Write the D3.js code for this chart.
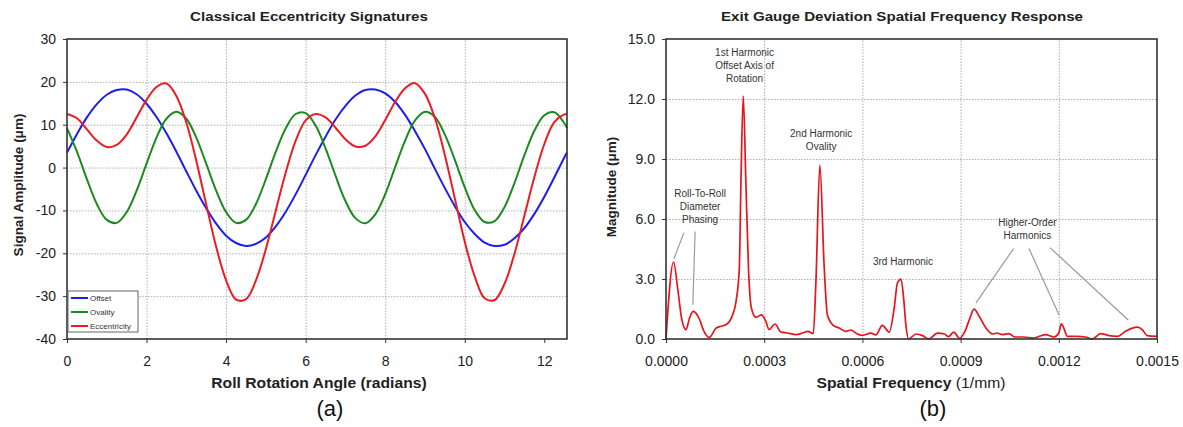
<!DOCTYPE html>
<html>
<head>
<meta charset="utf-8">
<script src="https://cdn.jsdelivr.net/npm/d3@7"></script>
<style>
  body { margin: 0; background: #fff; }
  svg { display: block; font-family: Arial, "Liberation Sans", sans-serif; }
  .grid line { stroke: #9a9a9a; stroke-dasharray: 1.5 1.5; stroke-width: 0.8; }
  .grid path { display: none; }
  .axis path { display: none; }
  .axis line { stroke: #333; }
  .axis text { font-size: 14px; fill: #222; }
</style>
</head>
<body>
<svg width="1183" height="427"></svg>
<script>
// ---- panel (a): eccentricity signatures ----
const angle = [0, 0.25, 0.5, 0.75, 1, 1.25, 1.5, 1.75, 2, 2.25, 2.5, 2.75, 3, 3.25, 3.5, 3.75,
  4, 4.25, 4.5, 4.75, 5, 5.25, 5.5, 5.75, 6, 6.25, 6.5, 6.75, 7, 7.25, 7.5, 7.75,
  8, 8.25, 8.5, 8.75, 9, 9.25, 9.5, 9.75, 10, 10.25, 10.5, 10.75, 11, 11.25, 11.5, 11.75,
  12, 12.25, 12.5, 12.57];
const offset = [3.5, 7.8, 11.7, 14.8, 17.0, 18.1, 18.2, 17.1, 14.9, 11.8, 8.0, 3.7, -0.9, -5.4, -9.5, -13.1,
  -15.9, -17.6, -18.3, -17.8, -16.3, -13.7, -10.3, -6.2, -1.7, 2.9, 7.2, 11.2, 14.4, 16.8, 18.1, 18.2,
  17.3, 15.3, 12.3, 8.5, 4.3, -0.3, -4.8, -9.0, -12.7, -15.5, -17.5, -18.3, -18.0, -16.5, -14.1, -10.8,
  -6.8, -2.3, 2.3, 3.5];
const ovality = [9.2, 3.7, -2.7, -8.5, -12.2, -12.9, -10.4, -5.4, 0.9, 7.0, 11.4, 13.0, 11.4, 7.0, 0.9, -5.4,
  -10.4, -12.9, -12.2, -8.5, -2.7, 3.7, 9.2, 12.5, 12.7, 9.8, 4.5, -1.9, -7.8, -11.8, -13.0, -10.9,
  -6.2, 0.1, 6.3, 11.0, 13.0, 11.8, 7.7, 1.8, -4.6, -9.9, -12.7, -12.5, -9.2, -3.6, 2.9, 8.6,
  12.2, 12.9, 10.4, 9.2];
const eccentricity = [12.5, 11.5, 8.9, 6.3, 4.8, 5.3, 7.7, 11.7, 15.8, 18.8, 19.6, 16.7, 10.5, 1.6, -8.6, -18.5,
  -26.3, -30.8, -30.7, -26.3, -19.0, -10.0, -1.1, 6.3, 11.0, 12.5, 11.7, 9.3, 6.6, 4.9, 5.1, 7.3,
  11.1, 15.3, 18.5, 19.7, 17.2, 11.5, 2.9, -7.2, -17.3, -25.4, -30.5, -30.9, -27.1, -20.1, -11.2, -2.2,
  5.5, 10.6, 12.4, 12.5];
const seriesNames = ['Offset', 'Ovality', 'Eccentricity'];
const seriesColors = ['#1d1df0', '#1b8a1f', '#ec1c24'];
const angleTicks = [0, 2, 4, 6, 8, 10, 12];
const ampTicks = [-40, -30, -20, -10, 0, 10, 20, 30];

// ---- panel (b): spatial frequency spectrum ----
const freq = [0, 0.000023, 0.000036, 0.000048, 0.000061, 0.000072, 0.000083, 0.000102, 0.000115, 0.000132,
  0.000153, 0.000168, 0.000183, 0.000203, 0.000214, 0.000224, 0.000229, 0.000236, 0.000244, 0.000252,
  0.000261, 0.000275, 0.000292, 0.000305, 0.000315, 0.000333, 0.000351, 0.000371, 0.000397, 0.000417,
  0.000434, 0.000450, 0.000458, 0.000470, 0.000483, 0.000493, 0.000509, 0.000529, 0.000549, 0.000564,
  0.000585, 0.000600, 0.000626, 0.000641, 0.000661, 0.000682, 0.000697, 0.000707, 0.000718, 0.000726,
  0.000733, 0.000741, 0.000764, 0.000784, 0.000802, 0.000830, 0.000851, 0.000863, 0.000879, 0.000897,
  0.000912, 0.000928, 0.000941, 0.000958, 0.000979, 0.000999, 0.001011, 0.001027, 0.001047, 0.001067,
  0.001093, 0.001123, 0.001159, 0.001185, 0.001200, 0.001208, 0.001217, 0.001226, 0.001256, 0.001282,
  0.001302, 0.001328, 0.001353, 0.001379, 0.001404, 0.001440, 0.001455, 0.001470, 0.001500];
const magnitude = [0.0, 3.85, 2.5, 1.0, 0.47, 1.05, 1.38, 1.0, 0.42, 0.08,
  0.54, 0.64, 0.71, 1.18, 1.88, 3.54, 7.9, 12.15, 7.86, 3.54,
  1.54, 1.08, 1.21, 0.88, 0.47, 0.75, 0.35, 0.30, 0.22, 0.30,
  0.38, 0.27, 2.87, 8.7, 3.7, 1.21, 0.71, 0.55, 0.38, 0.45,
  0.25, 0.18, 0.29, 0.20, 0.68, 0.34, 1.53, 2.8, 3.0, 2.03,
  0.68, 0.0, 0.25, 0.17, 0.0, 0.29, 0.25, 0.12, 0.34, 0.03,
  0.34, 1.02, 1.49, 1.10, 0.51, 0.25, 0.30, 0.22, 0.27, 0.10,
  0.10, 0.05, 0.22, 0.10, 0.30, 0.76, 0.47, 0.13, 0.13, 0.10,
  0.0, 0.27, 0.17, 0.13, 0.39, 0.59, 0.47, 0.17, 0.13];
const freqTicks = [0, 0.0003, 0.0006, 0.0009, 0.0012, 0.0015];
const magTicks = [0, 3, 6, 9, 12, 15];

// annotation text, anchored in data units (frequency, magnitude of first line)
const notes = [
  {f: 0.000240, m: 14.35, lines: ['1st Harmonic', 'Offset Axis of', 'Rotation']},
  {f: 0.000474, m: 10.29, lines: ['2nd Harmonic', 'Ovality']},
  {f: 0.000104, m: 7.28, lines: ['Roll-To-Roll', 'Diameter', 'Phasing']},
  {f: 0.000724, m: 3.86, lines: ['3rd Harmonic']},
  {f: 0.001104, m: 5.82, lines: ['Higher-Order', 'Harmonics']}
];
const leaders = [
  [0.000055, 5.32, 0.000024, 4.01],
  [0.000089, 5.37, 0.000082, 1.71],
  [0.001062, 4.52, 0.000947, 1.81],
  [0.001109, 4.52, 0.001201, 1.20],
  [0.001173, 4.57, 0.001412, 0.95]
];

const svg = d3.select('svg');

function frame(xScale, yScale, xTicks, yTicks, xFmt, yFmt) {
    const g = svg.append('g');
    const [x0, x1] = xScale.range(), [y0, y1] = yScale.range();
    g.append('g').attr('class', 'grid')
        .attr('transform', 'translate(0,' + y0 + ')')
        .call(d3.axisBottom(xScale).tickValues(xTicks.slice(1, -1)).tickSize(y1 - y0).tickFormat(''));
    g.append('g').attr('class', 'grid')
        .attr('transform', 'translate(' + x0 + ',0)')
        .call(d3.axisLeft(yScale).tickValues(yTicks.slice(1, -1)).tickSize(x0 - x1).tickFormat(''));
    g.append('g').attr('class', 'axis')
        .attr('transform', 'translate(0,' + y0 + ')')
        .call(d3.axisBottom(xScale).tickValues(xTicks).tickSize(4).tickPadding(13).tickFormat(xFmt));
    g.append('g').attr('class', 'axis')
        .attr('transform', 'translate(' + x0 + ',0)')
        .call(d3.axisLeft(yScale).tickValues(yTicks).tickSize(4).tickPadding(7).tickFormat(yFmt));
    return g;
}

function border(xScale, yScale) {
    const [x0, x1] = xScale.range(), [y0, y1] = yScale.range();
    svg.append('rect')
        .attr('x', x0).attr('y', y1).attr('width', x1 - x0).attr('height', y0 - y1)
        .attr('fill', 'none').attr('stroke', '#333').attr('stroke-width', 1.6);
}

// horizontal text in the source is a little wider than it is tall
function wideText(x, y, size, bold) {
    return svg.append('text')
        .attr('transform', 'translate(' + x + ',' + y + ') scale(1.12,1)')
        .attr('text-anchor', 'middle')
        .attr('font-size', size)
        .attr('font-weight', bold ? 'bold' : null)
        .attr('fill', '#222');
}

const plain = function (d) { return String(d); };

// ---------- panel (a) ----------
const xa = d3.scaleLinear().domain([0, 12.57]).range([67, 567]);
const ya = d3.scaleLinear().domain([-40, 30]).range([339, 39]);
frame(xa, ya, angleTicks, ampTicks, plain, plain);

const seriesA = [offset, ovality, eccentricity];
const lineA = d3.line()
    .x(function (d, i) { return xa(angle[i]); })
    .y(function (d) { return ya(d); })
    .curve(d3.curveCatmullRom);
svg.append('g').selectAll('path')
    .data(seriesA)
    .enter().append('path')
    .attr('d', lineA)
    .attr('fill', 'none')
    .attr('stroke', function (d, i) { return seriesColors[i]; })
    .attr('stroke-width', 2);
border(xa, ya);

wideText(309, 21, 13.5, true).text('Classical Eccentricity Signatures');
wideText(319, 388, 14, true).text('Roll Rotation Angle (radians)');
svg.append('text').attr('transform', 'translate(23,185) rotate(-90)').attr('text-anchor', 'middle')
    .attr('font-size', 13.5).attr('font-weight', 'bold').attr('fill', '#222')
    .text('Signal Amplitude (\u03bcm)');

// legend
const leg = svg.append('g').attr('transform', 'translate(' + (xa(0) + 1) + ',' + (ya(-40) - 48) + ')');
leg.append('rect').attr('width', 70).attr('height', 41)
    .attr('fill', '#fff').attr('stroke', '#666').attr('stroke-width', 1);
seriesNames.forEach(function (name, i) {
    const row = leg.append('g').attr('transform', 'translate(3,' + (7 + i * 14) + ')');
    row.append('line').attr('x1', 0).attr('x2', 17).attr('y1', 0).attr('y2', 0)
        .attr('stroke', seriesColors[i]).attr('stroke-width', 2);
    row.append('text').attr('x', 19).attr('y', 3).attr('font-size', 8).attr('fill', '#333').text(name);
});

svg.append('text').attr('x', 330).attr('y', 416).attr('text-anchor', 'middle')
    .attr('font-size', 22).attr('fill', '#111').text('(a)');

// ---------- panel (b) ----------
const xb = d3.scaleLinear().domain([0, 0.0015]).range([666, 1157]);
const yb = d3.scaleLinear().domain([0, 15]).range([339, 39]);
frame(xb, yb, freqTicks, magTicks, d3.format('.4f'), d3.format('.1f'));

const lineB = d3.line()
    .x(function (d, i) { return xb(freq[i]); })
    .y(function (d) { return yb(d); })
    .curve(d3.curveMonotoneX);
svg.append('path')
    .datum(magnitude)
    .attr('d', lineB)
    .attr('fill', 'none')
    .attr('stroke', '#e8141c')
    .attr('stroke-width', 1.7);
border(xb, yb);

svg.append('g').selectAll('line')
    .data(leaders)
    .enter().append('line')
    .attr('x1', function (d) { return xb(d[0]); })
    .attr('y1', function (d) { return yb(d[1]); })
    .attr('x2', function (d) { return xb(d[2]); })
    .attr('y2', function (d) { return yb(d[3]); })
    .attr('stroke', '#9a9a9a').attr('stroke-width', 1.2);

notes.forEach(function (n) {
    const t = svg.append('text')
        .attr('x', xb(n.f)).attr('y', yb(n.m) + 3.5)
        .attr('text-anchor', 'middle').attr('font-size', 10).attr('fill', '#333');
    n.lines.forEach(function (s, i) {
        t.append('tspan').attr('x', xb(n.f)).attr('dy', i ? 13.2 : 0).text(s);
    });
});

wideText(902, 21, 13.5, true).text('Exit Gauge Deviation Spatial Frequency Response');
const xt = wideText(911, 388, 14, false);
xt.append('tspan').attr('font-weight', 'bold').text('Spatial Frequency ');
xt.append('tspan').text('(1/mm)');
svg.append('text').attr('transform', 'translate(616,187) rotate(-90)').attr('text-anchor', 'middle')
    .attr('font-size', 13.5).attr('font-weight', 'bold').attr('fill', '#222')
    .text('Magnitude (\u03bcm)');

svg.append('text').attr('x', 933).attr('y', 416).attr('text-anchor', 'middle')
    .attr('font-size', 22).attr('fill', '#111').text('(b)');
</script>
</body>
</html>
